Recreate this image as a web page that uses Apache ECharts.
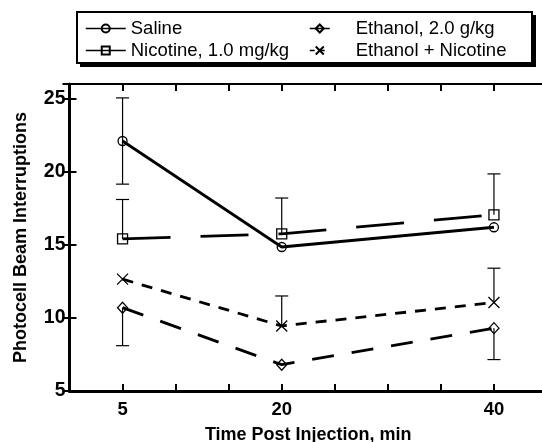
<!DOCTYPE html>
<html>
<head>
<meta charset="utf-8">
<script src="https://cdn.jsdelivr.net/npm/echarts@6/dist/echarts.min.js"></script>
<style>
html,body{margin:0;padding:0;background:#fff;}
#c{width:542px;height:442px;}
</style>
</head>
<body>
<div id="c"></div>
<script>
// ---- data ----
const times = [5, 20, 40];
const xTickLabels = [5, 20, 40];
const yTickLabels = [5, 10, 15, 20, 25];
const seriesNames = ['Saline', 'Nicotine, 1.0 mg/kg', 'Ethanol, 2.0 g/kg', 'Ethanol + Nicotine'];
const saline   = [22.1, 14.85, 16.2];
const nicotine = [15.4, 15.75, 17.05];
const ethanol  = [10.7, 6.8, 9.3];
const ethNic   = [12.65, 9.45, 11.05];
// error-bar ends (null = not drawn)
const salineErrTop    = [25.05, null, null];
const salineErrBottom = [19.15, null, null];
const nicotineErrTop  = [18.1, 18.2, 19.85];
const ethanolErrBottom = [8.1, null, 7.15];
const ethNicErrTop    = [null, 11.5, 13.4];

const FONT = '"Liberation Sans", Arial, Helvetica, sans-serif';

function pairs(vals) { return times.map((t, i) => [t, vals[i]]); }
const errData = [];
function addBars(means, ends) {
  ends.forEach((e, i) => { if (e !== null) errData.push([times[i], means[i], e]); });
}
addBars(saline, salineErrTop);
addBars(saline, salineErrBottom);
addBars(nicotine, nicotineErrTop);
addBars(ethanol, ethanolErrBottom);
addBars(ethNic, ethNicErrTop);

const hollow = { color: 'rgba(255,255,255,0)', borderColor: '#000', borderWidth: 1.3 };

const chart = echarts.init(document.getElementById('c'), null, { renderer: 'canvas' });
const option = {
  animation: false,
  backgroundColor: '#fff',
  grid: { left: 69.5, top: 84, right: -5, bottom: 51, containLabel: false, outerBoundsMode: 'none' },
  graphic: [
    { type: 'rect', z: 1, shape: { x: 80, y: 15, width: 456, height: 52 }, style: { fill: '#000' } },
    { type: 'rect', z: 1, shape: { x: 77, y: 12, width: 455, height: 51 }, style: { fill: '#fff', stroke: '#000', lineWidth: 2 } }
  ],
  legend: [
    {
      z: 10, orient: 'vertical', left: 85, top: 19, padding: 0, itemWidth: 40, itemHeight: 10, itemGap: 3,
      selectedMode: false,
      textStyle: { fontFamily: FONT, fontSize: 18.5, color: '#000' },
      data: [
        { name: seriesNames[0], lineStyle: { type: 'solid', width: 1.5 } },
        { name: seriesNames[1], lineStyle: { type: 'solid', width: 1.5 } }
      ]
    },
    {
      z: 10, orient: 'vertical', left: 309, top: 19, padding: 0, itemWidth: 20, itemHeight: 10, itemGap: 3,
      selectedMode: false,
      textStyle: { fontFamily: FONT, fontSize: 18.5, color: '#000', padding: [0, 0, 0, 21] },
      data: [
        { name: seriesNames[2], lineStyle: { type: 'solid', width: 1.5 } },
        { name: seriesNames[3], lineStyle: { type: [5, 5], width: 1.5 } }
      ]
    }
  ],
  xAxis: [
    {
      type: 'value', min: 0, max: 45, interval: 5, position: 'bottom',
      name: 'Time Post Injection, min', nameLocation: 'middle', nameGap: 35,
      nameTextStyle: { fontFamily: FONT, fontSize: 18, fontWeight: 'bold', color: '#000' },
      axisLine: { lineStyle: { color: '#000', width: 3 } },
      axisTick: { inside: true, length: 7, lineStyle: { color: '#000', width: 2 } },
      splitLine: { show: false },
      axisLabel: {
        margin: 9, fontFamily: FONT, fontSize: 18.5, fontWeight: 'bold', color: '#000',
        formatter: v => xTickLabels.indexOf(v) >= 0 ? String(v) : ''
      }
    },
    {
      type: 'value', min: 0, max: 45, interval: 5, position: 'top',
      axisLine: { lineStyle: { color: '#000', width: 2 } },
      axisTick: { inside: true, length: 7, lineStyle: { color: '#000', width: 2 } },
      splitLine: { show: false }, axisLabel: { show: false }
    }
  ],
  yAxis: [
    {
      type: 'value', min: 5, max: 26, interval: 5, position: 'left',
      name: 'Photocell Beam Interruptions', nameLocation: 'middle', nameGap: 39,
      nameTextStyle: { fontFamily: FONT, fontSize: 18, fontWeight: 'bold', color: '#000' },
      axisLine: { lineStyle: { color: '#000', width: 3 } },
      axisTick: { inside: true, length: 7, lineStyle: { color: '#000', width: 2 } },
      splitLine: { show: false },
      axisLabel: {
        margin: 4, fontFamily: FONT, fontSize: 19.5, fontWeight: 'bold', color: '#000',
        formatter: v => yTickLabels.indexOf(v) >= 0 ? String(v) : ''
      }
    },
    {
      type: 'value', min: 5, max: 26, interval: 5, position: 'right',
      axisLine: { lineStyle: { color: '#000', width: 2 } },
      axisTick: { inside: true, length: 7, lineStyle: { color: '#000', width: 2 } },
      splitLine: { show: false }, axisLabel: { show: false }
    }
  ],
  series: [
    {
      type: 'custom', name: 'err', z: 1, silent: true,
      xAxisIndex: 0, yAxisIndex: 0,
      encode: { x: 0, y: [1, 2] },
      data: errData,
      renderItem: function (params, api) {
        const x = api.value(0), y0 = api.value(1), y1 = api.value(2);
        const p0 = api.coord([x, y0]), p1 = api.coord([x, y1]);
        return {
          type: 'group',
          children: [
            { type: 'line', shape: { x1: p0[0], y1: p0[1], x2: p1[0], y2: p1[1] }, style: { stroke: '#000', lineWidth: 1.2 } },
            { type: 'line', shape: { x1: p1[0] - 6.5, y1: p1[1], x2: p1[0] + 6.5, y2: p1[1] }, style: { stroke: '#000', lineWidth: 1.2 } }
          ]
        };
      }
    },
    {
      type: 'line', name: seriesNames[0], z: 3, data: pairs(saline),
      symbol: 'circle', symbolSize: 9, itemStyle: hollow,
      lineStyle: { color: '#000', width: 2.8, type: 'solid' }
    },
    {
      type: 'line', name: seriesNames[1], z: 3, data: pairs(nicotine),
      symbol: 'rect', symbolSize: 10, itemStyle: hollow,
      lineStyle: { color: '#000', width: 2.8, type: [48, 30] }
    },
    {
      type: 'line', name: seriesNames[2], z: 3, data: pairs(ethanol),
      symbol: 'diamond', symbolSize: [10, 11], itemStyle: hollow,
      lineStyle: { color: '#000', width: 2.8, type: [22, 18] }
    },
    {
      type: 'line', name: seriesNames[3], z: 3, data: pairs(ethNic),
      symbol: 'path://M0,0L10,10M10,0L0,10', symbolSize: 11, itemStyle: hollow,
      lineStyle: { color: '#000', width: 2.8, type: [11, 9] }
    }
  ]
};
chart.setOption(option);
</script>
</body>
</html>
